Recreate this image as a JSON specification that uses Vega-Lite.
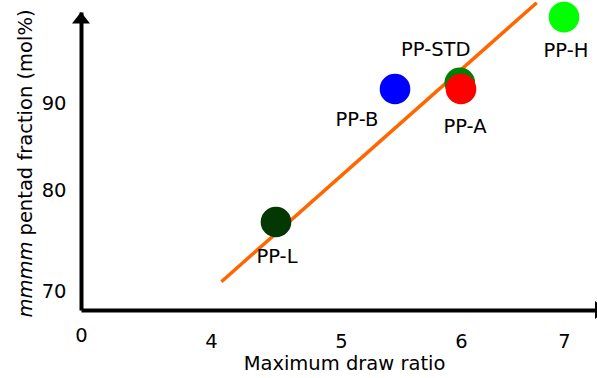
{
  "$schema": "https://vega.github.io/schema/vega-lite/v6.json",
  "width": 516,
  "height": 298,
  "autosize": "none",
  "padding": {"left": 81, "top": 12, "right": 0, "bottom": 68},
  "background": "white",
  "config": {
    "view": {"stroke": null},
    "font": "DejaVu Sans",
    "axis": {
      "grid": false,
      "ticks": false,
      "domainColor": "black",
      "domainWidth": 4,
      "labelColor": "black",
      "titleColor": "black",
      "labelFont": "DejaVu Sans",
      "titleFont": "DejaVu Sans",
      "labelFontSize": 19.5,
      "titleFontSize": 19.5,
      "titleFontWeight": "normal"
    }
  },
  "datasets": {
    "pts": [
      {"name": "PP-STD", "ratio": 5.99, "pentad": 92.3},
      {"name": "PP-A", "ratio": 6.0, "pentad": 91.6},
      {"name": "PP-B", "ratio": 5.45, "pentad": 91.6},
      {"name": "PP-L", "ratio": 4.5, "pentad": 76.9},
      {"name": "PP-H", "ratio": 7.0, "pentad": 99.8}
    ],
    "fit": [
      {"ratio": 4.08, "pentad": 70.99},
      {"ratio": 6.735, "pentad": 101.44}
    ],
    "arrows": [
      {"dir": "up", "ratio": 3, "pentad": 100.38},
      {"dir": "right", "ratio": 7.32, "pentad": 68.19}
    ]
  },
  "encoding": {
    "x": {
      "field": "ratio",
      "type": "quantitative",
      "scale": {"domain": [3, 4, 5, 6, 7, 7.32], "range": [0, 130, 260, 380, 483, 516], "nice": false, "zero": false},
      "axis": {
        "title": "Maximum draw ratio",
        "values": [3, 4, 5, 6, 7],
        "labelExpr": "datum.value == 3 ? '0' : datum.label",
        "labelFlush": false,
        "labelPadding": {"condition": {"test": "datum.value == 3", "value": 16}, "value": 22},
        "labelBaseline": "top",
        "titleX": 263,
        "titleY": 59,
        "titleBaseline": "alphabetic",
        "titleAlign": "center"
      }
    }
  },
  "layer": [
    {
      "data": {"name": "fit"},
      "mark": {"type": "line", "color": "#FF6600", "strokeWidth": 3.5},
      "encoding": {
        "y": {
          "field": "pentad",
          "type": "quantitative",
          "scale": {"domain": [68.19, 70, 80, 90, 100.38], "range": [298, 279.7, 178.7, 91, 0], "nice": false, "zero": false},
          "axis": {
            "orient": "left",
            "title": "mmmm",
            "titleFontStyle": "italic",
            "labels": false,
            "domain": false,
            "ticks": false,
            "titleAngle": 270,
            "titleAlign": "left",
            "titleBaseline": "alphabetic",
            "titleX": -50,
            "titleY": 305
          }
        }
      }
    },
    {
      "data": {"name": "pts"},
      "encoding": {
        "y": {
          "field": "pentad",
          "type": "quantitative",
          "scale": {"domain": [68.19, 70, 80, 90, 100.38], "range": [298, 279.7, 178.7, 91, 0], "nice": false, "zero": false},
          "axis": {
            "orient": "left",
            "title": "pentad fraction (mol%)",
            "values": [70, 80, 90],
            "labelPadding": 15,
            "titleAngle": 270,
            "titleAlign": "left",
            "titleBaseline": "alphabetic",
            "titleX": -50,
            "titleY": 223
          }
        }
      },
      "layer": [
        {
          "mark": {"type": "point", "filled": true, "opacity": 1, "size": 940, "strokeWidth": 0},
          "encoding": {
            "color": {
              "field": "name",
              "type": "nominal",
              "scale": {"domain": ["PP-STD", "PP-A", "PP-B", "PP-L", "PP-H"], "range": ["#008000", "#FF0000", "#0000FF", "#033803", "#00FF00"]},
              "legend": null
            }
          }
        },
        {
          "transform": [{"filter": "datum.name == 'PP-STD'"}],
          "mark": {"type": "text", "fontSize": 19.5, "color": "black", "dx": -24, "dy": -33, "align": "center", "baseline": "middle"},
          "encoding": {"text": {"field": "name"}}
        },
        {
          "transform": [{"filter": "datum.name == 'PP-H'"}],
          "mark": {"type": "text", "fontSize": 19.5, "color": "black", "dx": 2, "dy": 34, "align": "center", "baseline": "middle"},
          "encoding": {"text": {"field": "name"}}
        },
        {
          "transform": [{"filter": "datum.name == 'PP-B'"}],
          "mark": {"type": "text", "fontSize": 19.5, "color": "black", "dx": -38, "dy": 31, "align": "center", "baseline": "middle"},
          "encoding": {"text": {"field": "name"}}
        },
        {
          "transform": [{"filter": "datum.name == 'PP-A'"}],
          "mark": {"type": "text", "fontSize": 19.5, "color": "black", "dx": 4, "dy": 38, "align": "center", "baseline": "middle"},
          "encoding": {"text": {"field": "name"}}
        },
        {
          "transform": [{"filter": "datum.name == 'PP-L'"}],
          "mark": {"type": "text", "fontSize": 19.5, "color": "black", "dx": 1, "dy": 35, "align": "center", "baseline": "middle"},
          "encoding": {"text": {"field": "name"}}
        },
        {
          "data": {"name": "arrows"},
          "transform": [{"filter": "datum.dir == 'up'"}],
          "mark": {"type": "point", "shape": "M0,0L0.9,1.16L-0.9,1.16Z", "size": 400, "filled": true, "color": "black", "opacity": 1, "strokeWidth": 0}
        },
        {
          "data": {"name": "arrows"},
          "transform": [{"filter": "datum.dir == 'right'"}],
          "mark": {"type": "point", "shape": "M0.96,0L-0.2,-0.9L-0.2,0.9Z", "size": 400, "filled": true, "color": "black", "opacity": 1, "strokeWidth": 0}
        }
      ]
    }
  ],
  "resolve": {"axis": {"y": "independent"}}
}
